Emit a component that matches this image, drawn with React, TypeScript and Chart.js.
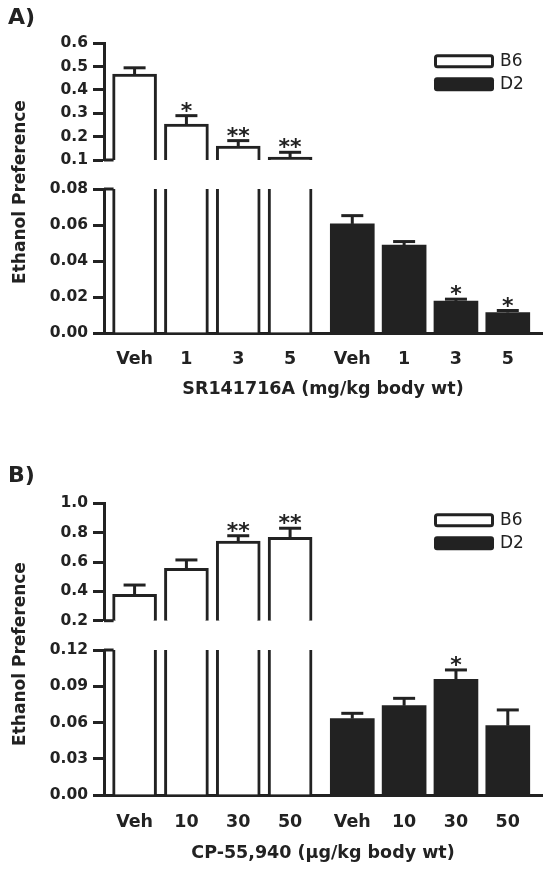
import React, { useEffect, useRef } from 'react';
import { Chart, registerables } from 'chart.js';

Chart.register(...registerables);

const INK = '#222222';
const FONT = "'DejaVu Sans', 'Liberation Sans', sans-serif";

// ---------- Panel A : SR141716A ----------
const aDoseLabels = ['Veh', '1', '3', '5', 'Veh', '1', '3', '5'];
const aB6Mean = [0.468, 0.254, 0.16, 0.112];
const aB6Sem = [0.027, 0.036, 0.023, 0.021];
const aB6Sig = ['', '*', '**', '**'];
const aD2Mean = [0.0606, 0.0488, 0.0178, 0.0114];
const aD2Sem = [0.0046, 0.002, 0.001, 0.0011];
const aD2Sig = ['', '', '*', '*'];
const aUpperTicks = [0.1, 0.2, 0.3, 0.4, 0.5, 0.6];
const aLowerTicks = [0, 0.02, 0.04, 0.06, 0.08];
const aXTitle = 'SR141716A (mg/kg body wt)';

// ---------- Panel B : CP-55,940 ----------
const bDoseLabels = ['Veh', '10', '30', '50', 'Veh', '10', '30', '50'];
const bB6Mean = [0.38, 0.557, 0.743, 0.768];
const bB6Sem = [0.063, 0.057, 0.036, 0.062];
const bB6Sig = ['', '', '**', '**'];
const bD2Mean = [0.0632, 0.0739, 0.0958, 0.0574];
const bD2Sem = [0.0044, 0.0061, 0.0077, 0.013];
const bD2Sig = ['', '', '*', ''];
const bUpperTicks = [0.2, 0.4, 0.6, 0.8, 1.0];
const bLowerTicks = [0, 0.03, 0.06, 0.09, 0.12];
const bXTitle = 'CP-55,940 (\u03bcg/kg body wt)';

const seriesLabels = ['B6', 'D2'];
const yTitle = 'Ethanol Preference';

// ---------- layout ----------
const W = 546;
const AXIS_LEFT = 104;
const RIGHT_PAD = 4;
const GROUP_GAP = 0.2;
const X_MIN = 0.41;
const X_MAX = 8.86;
const X_AXIS_H = 75;

// clip all bars to the segment's own plot area (broken axis)
const clipPlugin = {
  id: 'segClip',
  beforeDatasetsDraw(chart: any) {
    const { ctx, chartArea } = chart;
    ctx.save();
    ctx.beginPath();
    ctx.rect(chartArea.left, chartArea.top, chartArea.right - chartArea.left, chartArea.bottom - chartArea.top);
    ctx.clip();
  },
  afterDatasetsDraw(chart: any) {
    chart.ctx.restore();
  },
};

const errorBarPlugin = {
  id: 'errorBars',
  afterDatasetsDraw(chart: any) {
    const { ctx, scales } = chart;
    const y = scales.y;
    ctx.save();
    chart.data.datasets.forEach((ds: any, di: number) => {
      const meta = chart.getDatasetMeta(di);
      meta.data.forEach((bar: any, j: number) => {
        const v = ds.data[j].y;
        const e = ds.errors[j];
        if (v > y.max || v + e < y.min) return;
        const yv = y.getPixelForValue(Math.max(v, y.min));
        const ye = y.getPixelForValue(v + e);
        ctx.strokeStyle = INK;
        ctx.lineWidth = 3;
        ctx.beginPath();
        ctx.moveTo(bar.x, yv);
        ctx.lineTo(bar.x, ye);
        ctx.stroke();
        ctx.beginPath();
        ctx.moveTo(bar.x - 11, ye);
        ctx.lineTo(bar.x + 11, ye);
        ctx.stroke();
        const s = ds.sig[j];
        if (s) {
          ctx.fillStyle = INK;
          ctx.font = `bold 22px ${FONT}`;
          ctx.textAlign = 'center';
          ctx.textBaseline = 'alphabetic';
          ctx.fillText(s, bar.x, ye + 2);
        }
      });
    });
    ctx.restore();
  },
};

const breakPlugin = {
  id: 'breakSeg',
  afterDatasetsDraw(chart: any, _args: any, opts: any) {
    const { ctx, chartArea, scales } = chart;
    const y = scales.y;
    const yPix = y.getPixelForValue(opts.edge === 'min' ? y.min : y.max);
    const bar = chart.getDatasetMeta(0).data[0];
    ctx.save();
    ctx.strokeStyle = INK;
    ctx.lineWidth = 3;
    ctx.beginPath();
    ctx.moveTo(chartArea.left, yPix);
    ctx.lineTo(bar.x - bar.width / 2 + 1, yPix);
    ctx.stroke();
    ctx.restore();
  },
};

const legendPlugin = {
  id: 'boxLegend',
  afterDraw(chart: any, _args: any, opts: any) {
    if (!opts.show) return;
    const { ctx, chartArea } = chart;
    ctx.save();
    chart.data.datasets.forEach((ds: any, i: number) => {
      const left = chartArea.right - 108;
      const top = chartArea.top + opts.top + i * 23;
      ctx.beginPath();
      if (i === 0) {
        ctx.roundRect(left + 1.5, top + 1.5, 57, 11, 2);
        ctx.fillStyle = ds.backgroundColor;
        ctx.fill();
        ctx.lineWidth = 3;
        ctx.strokeStyle = INK;
        ctx.stroke();
      } else {
        ctx.roundRect(left, top, 60, 14, 3);
        ctx.fillStyle = ds.backgroundColor;
        ctx.fill();
      }
      ctx.fillStyle = INK;
      ctx.font = `17px ${FONT}`;
      ctx.textAlign = 'left';
      ctx.textBaseline = 'middle';
      ctx.fillText(ds.label, left + 66, top + 7.5);
    });
    ctx.restore();
  },
};

function Segment(props: any) {
  const ref = useRef<HTMLCanvasElement | null>(null);
  const p = props;
  useEffect(() => {
    const xPos = p.doses.map((_: any, i: number) => i + 1 + (i >= 4 ? GROUP_GAP : 0));
    const lower = p.part === 'lower';
    const chart = new Chart(ref.current as HTMLCanvasElement, {
      type: 'bar',
      data: {
        datasets: [
          {
            label: seriesLabels[0],
            data: p.b6Mean.map((v: number, i: number) => ({ x: xPos[i], y: v })),
            errors: p.b6Sem,
            sig: p.b6Sig,
            backgroundColor: '#ffffff',
            borderColor: INK,
            borderWidth: 3,
            borderSkipped: 'start',
            barThickness: 44,
            grouped: false,
            clip: 0,
          } as any,
          {
            label: seriesLabels[1],
            data: p.d2Mean.map((v: number, i: number) => ({ x: xPos[i + 4], y: v })),
            errors: p.d2Sem,
            sig: p.d2Sig,
            backgroundColor: INK,
            borderColor: INK,
            borderWidth: 0,
            barThickness: 44,
            grouped: false,
            clip: 0,
          } as any,
        ],
      },
      options: {
        animation: false,
        responsive: false,
        devicePixelRatio: 1,
        events: [],
        layout: { padding: { left: 0, right: RIGHT_PAD, top: p.padTop, bottom: p.padBottom } },
        scales: {
          x: {
            type: 'linear',
            min: X_MIN,
            max: X_MAX,
            offset: false,
            display: lower,
            afterBuildTicks: (s: any) => {
              s.ticks = xPos.map((v: number) => ({ value: v }));
            },
            afterFit: (s: any) => {
              s.height = lower ? X_AXIS_H : 0;
            },
            ticks: {
              autoSkip: false,
              maxRotation: 0,
              padding: p.xLabelPad,
              color: INK,
              font: { family: FONT, size: 17.5, weight: 'bold' },
              callback: (_v: any, i: number) => p.doses[i],
            },
            grid: { display: false, drawTicks: false },
            border: { display: true, width: 3, color: INK },
            title: {
              display: true,
              text: p.xTitle,
              color: INK,
              font: { family: FONT, size: 17.5, weight: 'bold' },
              padding: { top: 0, bottom: p.xTitlePad },
            },
          } as any,
          y: {
            type: 'linear',
            min: p.ticks[0],
            max: p.ticks[p.ticks.length - 1],
            afterBuildTicks: (s: any) => {
              s.ticks = p.ticks.map((v: number) => ({ value: v }));
            },
            afterFit: (s: any) => {
              s.width = AXIS_LEFT;
            },
            ticks: {
              padding: 5,
              color: INK,
              font: { family: FONT, size: 15.5, weight: 'bold' },
              callback: (v: any) => Number(v).toFixed(p.decimals),
            },
            grid: {
              display: true,
              drawOnChartArea: false,
              drawTicks: true,
              tickLength: 11,
              tickWidth: 3,
              tickColor: INK,
            },
            border: { display: true, width: 3, color: INK },
          } as any,
        },
        plugins: {
          legend: { display: false },
          tooltip: { enabled: false },
          breakSeg: { edge: lower ? 'max' : 'min' },
          boxLegend: { show: !lower, top: p.legendTop || 0 },
        } as any,
      },
      plugins: [clipPlugin, errorBarPlugin, breakPlugin, legendPlugin],
    } as any);
    return () => chart.destroy();
  }, []);
  return (
    <canvas
      ref={ref}
      width={W}
      height={p.height}
      style={{ position: 'absolute', left: 0, top: p.top, width: W, height: p.height }}
    />
  );
}

function Panel(props: any) {
  const p = props;
  const common = {
    doses: p.doses,
    b6Mean: p.b6Mean,
    b6Sem: p.b6Sem,
    b6Sig: p.b6Sig,
    d2Mean: p.d2Mean,
    d2Sem: p.d2Sem,
    d2Sig: p.d2Sig,
    xTitle: p.xTitle,
  };
  const L = p.layout;
  const upperTop = Math.round(L.upper[0] - 20);
  const upperH = Math.round(L.upper[1] - upperTop + 20);
  const lowerTop = Math.round(L.lower[0] - 20);
  const lowerH = Math.round(L.lower[1] - lowerTop + X_AXIS_H);
  return (
    <>
      <Segment
        {...common}
        part="upper"
        ticks={p.upperTicks}
        decimals={1}
        top={upperTop}
        height={upperH}
        padTop={L.upper[0] - upperTop}
        padBottom={upperH - (L.upper[1] - upperTop)}
        legendTop={L.legendTop}
      />
      <Segment
        {...common}
        part="lower"
        ticks={p.lowerTicks}
        decimals={2}
        top={lowerTop}
        height={lowerH}
        padTop={L.lower[0] - lowerTop}
        padBottom={lowerH - (L.lower[1] - lowerTop) - X_AXIS_H}
        xLabelPad={L.xLabelPad}
        xTitlePad={L.xTitlePad}
      />
      <div
        style={{
          position: 'absolute',
          left: 8,
          top: L.tag,
          font: `bold 22px ${FONT}`,
          lineHeight: '22px',
          color: INK,
        }}
      >
        {p.tag}
      </div>
      <div
        style={{
          position: 'absolute',
          left: L.yTitle[0],
          top: L.yTitle[1],
          transform: 'translate(-50%, -50%) rotate(-90deg)',
          whiteSpace: 'nowrap',
          font: `bold 17px ${FONT}`,
          lineHeight: '17px',
          color: INK,
        }}
      >
        {yTitle}
      </div>
    </>
  );
}

const layoutA = {
  upper: [43.3, 160],
  lower: [189, 333],
  legendTop: 11,
  xLabelPad: 16,
  xTitlePad: 8,
  tag: 6,
  yTitle: [19, 192],
};
const layoutB = {
  upper: [503.3, 620.7],
  lower: [650, 795],
  legendTop: 10,
  xLabelPad: 17,
  xTitlePad: 6,
  tag: 464,
  yTitle: [19, 654],
};

export default function App() {
  return (
    <div style={{ position: 'absolute', left: 0, top: 0, width: W, height: 872, background: '#fff', overflow: 'hidden' }}>
      <Panel
        tag="A)"
        layout={layoutA}
        doses={aDoseLabels}
        b6Mean={aB6Mean}
        b6Sem={aB6Sem}
        b6Sig={aB6Sig}
        d2Mean={aD2Mean}
        d2Sem={aD2Sem}
        d2Sig={aD2Sig}
        upperTicks={aUpperTicks}
        lowerTicks={aLowerTicks}
        xTitle={aXTitle}
      />
      <Panel
        tag="B)"
        layout={layoutB}
        doses={bDoseLabels}
        b6Mean={bB6Mean}
        b6Sem={bB6Sem}
        b6Sig={bB6Sig}
        d2Mean={bD2Mean}
        d2Sem={bD2Sem}
        d2Sig={bD2Sig}
        upperTicks={bUpperTicks}
        lowerTicks={bLowerTicks}
        xTitle={bXTitle}
      />
    </div>
  );
}
